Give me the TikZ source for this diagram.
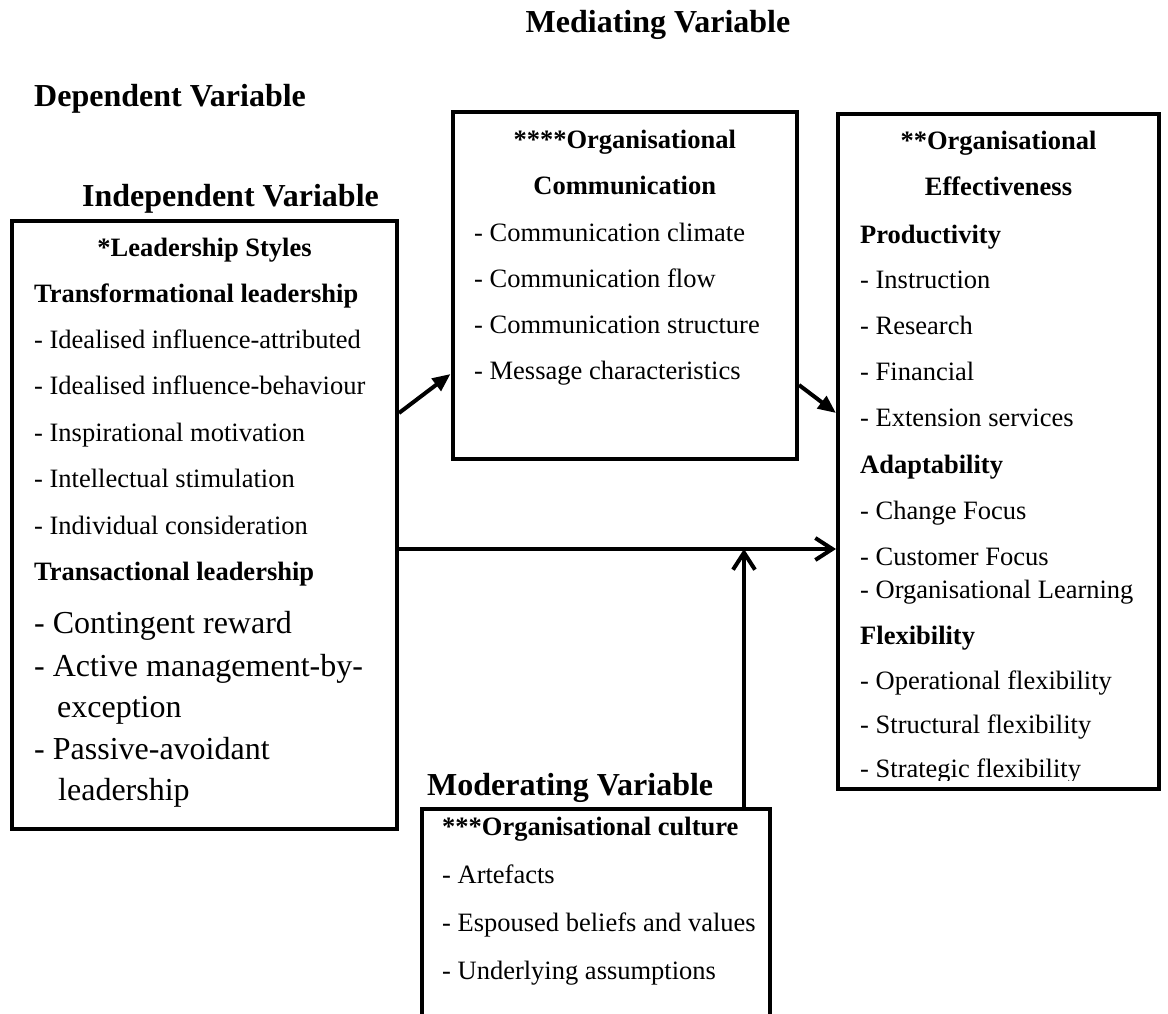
\documentclass[tikz,border=0pt]{standalone}
\usepackage{fontspec}
\setmainfont{Liberation Serif}
\usetikzlibrary{arrows.meta,positioning}

\tikzset{
  box/.style={draw, line width=4pt, inner sep=0pt},
  item/.style={inner sep=0pt, anchor=base west, font=\fontsize{26.5}{30}\selectfont},
  subhead/.style={item, font=\fontsize{26.5}{30}\selectfont\bfseries},
  bigitem/.style={item, font=\fontsize{32}{36}\selectfont},
  varname/.style={inner sep=0pt, anchor=base west, font=\fontsize{32}{36}\selectfont\bfseries},
  link/.style={line width=4pt, -{Triangle[length=18pt,width=15pt]}},
  effect/.style={line width=4pt, -{Straight Barb[length=17pt,width=22pt]}},
}

\begin{document}
\begin{tikzpicture}[x=1pt,y=-1pt]
\useasboundingbox (0,0) rectangle (1168,1014);

% variable names
\node[varname, anchor=base] (med) at (658,33) {Mediating Variable};
\node[varname] (dep) at (34,107) {Dependent Variable};
\node[varname] (indep) at (82,207) {Independent Variable};
\node[varname] (mod) at (427,795) {Moderating Variable};

% boxes
\node[box, minimum width=385pt, minimum height=608pt] (lead) at (204.5,525) {};
\node[box, minimum width=344.5pt, minimum height=347pt] (comm) at (624.75,285.5) {};
\node[box, minimum width=321pt, minimum height=675pt] (eff) at (998.5,451.5) {};
\node[box, minimum width=348pt, minimum height=240pt] (cult) at (596,929) {};  % runs off the page

% leadership styles
\node[subhead, anchor=base] (ls) at (204.5,256) {*Leadership Styles};
\node[subhead] (tf) at (34,302) {Transformational leadership};
\node[item] (tf1) at (34,348) {- Idealised influence-attributed};
\node[item] (tf2) at (34,394) {- Idealised influence-behaviour};
\node[item] (tf3) at (34,441) {- Inspirational motivation};
\node[item] (tf4) at (34,487) {- Intellectual stimulation};
\node[item] (tf5) at (34,534) {- Individual consideration};
\node[subhead] (ta) at (34,580) {Transactional leadership};
\node[bigitem] (ta1) at (34,633) {- Contingent reward};
\node[bigitem] (ta2) at (34,676) {- Active management-by-};
\node[bigitem] (ta2b) at (57,717) {exception};
\node[bigitem] (ta3) at (34,759) {- Passive-avoidant};
\node[bigitem] (ta3b) at (58,800) {leadership};

% organisational communication
\node[subhead, anchor=base] (oc) at (624.75,149) {****Organisational};
\node[subhead, anchor=base] (oc0) at (624.75,195) {Communication};
\node[item] (oc1) at (474,241) {- Communication climate};
\node[item] (oc2) at (474,287) {- Communication flow};
\node[item] (oc3) at (474,333) {- Communication structure};
\node[item] (oc4) at (474,379) {- Message characteristics};

% organisational effectiveness
\node[subhead, anchor=base] (oe) at (998.5,150) {**Organisational};
\node[subhead, anchor=base] (oe0) at (998.5,196) {Effectiveness};
\node[subhead] (pr) at (860,243) {Productivity};
\node[item] (pr1) at (860,288) {- Instruction};
\node[item] (pr2) at (860,334) {- Research};
\node[item] (pr3) at (860,380) {- Financial};
\node[item] (pr4) at (860,426) {- Extension services};
\node[subhead] (ad) at (860,473) {Adaptability};
\node[item] (ad1) at (860,519) {- Change Focus};
\node[item] (ad2) at (860,565) {- Customer Focus};
\node[item] (ad3) at (860,598) {- Organisational Learning};
\node[subhead] (fl) at (860,644) {Flexibility};
\node[item] (fl1) at (860,689) {- Operational flexibility};
\node[item] (fl2) at (860,733) {- Structural flexibility};
\begin{scope}
  \clip (841,700) rectangle (1156,780);
  \node[item] (fl3) at (860,777) {- Strategic flexibility};
\end{scope}

% organisational culture
\node[subhead] (cu) at (442,835) {***Organisational culture};
\node[item] (cu1) at (442,883) {- Artefacts};
\node[item] (cu2) at (442,931) {- Espoused beliefs and values};
\node[item] (cu3) at (442,979) {- Underlying assumptions};

% arrows
\draw[link] ([yshift=112pt]lead.east) -- ([yshift=-88.5pt]comm.west);
\draw[link] ([yshift=-99.5pt]comm.east) -- ([yshift=38.5pt]eff.west);
\draw[effect] ([yshift=-24pt]lead.east) coordinate (fork) -- (fork -| eff.west);
\draw[effect] ([xshift=148pt]cult.north) coordinate (up) -- (up |- fork);

\end{tikzpicture}
\end{document}
